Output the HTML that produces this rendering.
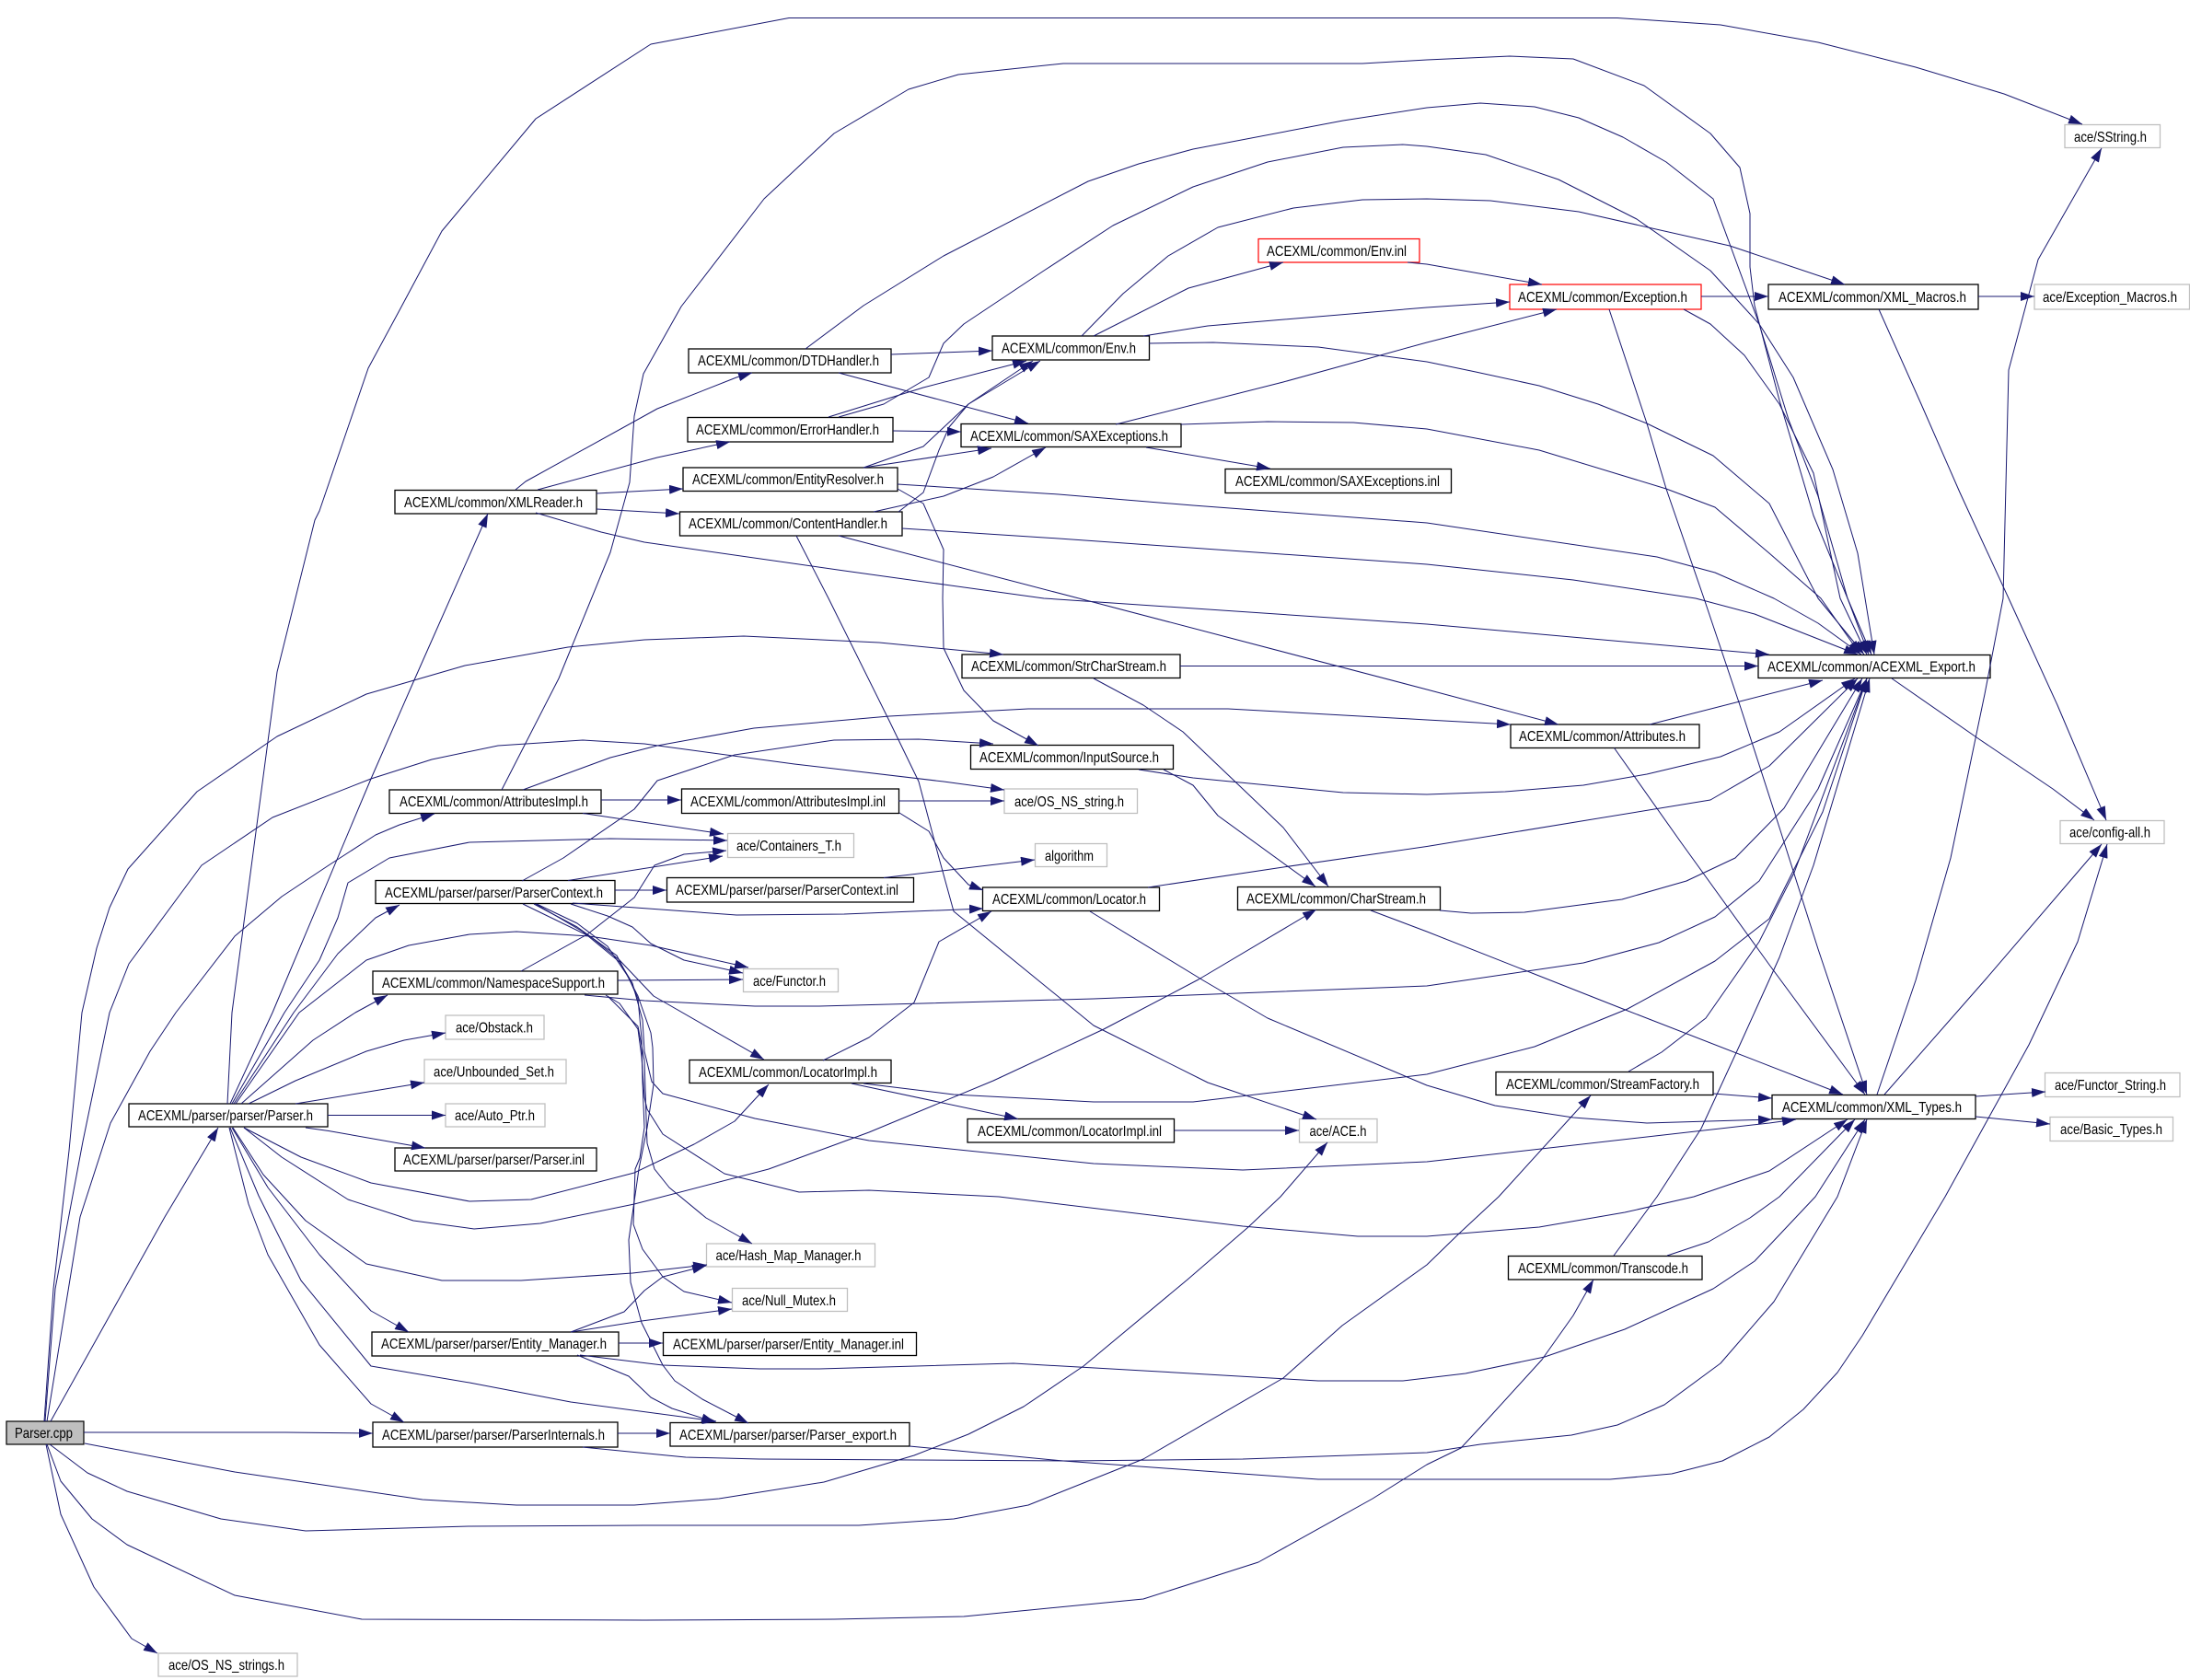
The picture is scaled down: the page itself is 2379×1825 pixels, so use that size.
<!DOCTYPE html>
<html>
<head>
<meta charset="utf-8">
<title>Parser.cpp include graph</title>
<style>
html,body{margin:0;padding:0;background:#fff}
svg{display:block}
.e path{fill:none;stroke:#191970;stroke-width:1;stroke-linejoin:round;marker-end:url(#a)}
.n rect{fill:#fff;stroke:#000;stroke-width:1.3}
.g rect{fill:#fff;stroke:#bfbfbf;stroke-width:1.3}
.r rect{fill:#fff;stroke:#f00;stroke-width:1.2}
text{font-family:"Liberation Sans",sans-serif;font-size:16px;fill:#000}
</style>
</head>
<body>
<svg xmlns="http://www.w3.org/2000/svg" width="2379" height="1825" viewBox="0 0 2379 1825">
<defs>
<marker id="a" markerUnits="userSpaceOnUse" markerWidth="15" markerHeight="10" refX="15" refY="5" orient="auto">
<path d="M0,0 L15,5 L0,10 z" fill="#191970"/>
</marker>
</defs>
<rect width="2379" height="1825" fill="#fff"/>

<g class="n"><rect x="140" y="1199" width="216" height="25"/><text x="150" y="1217" textLength="190" lengthAdjust="spacingAndGlyphs">ACEXML/parser/parser/Parser.h</text></g>
<g class="n"><rect x="429" y="1247" width="219" height="25"/><text x="438" y="1265" textLength="197" lengthAdjust="spacingAndGlyphs">ACEXML/parser/parser/Parser.inl</text></g>
<g class="n"><rect x="404" y="1447" width="268" height="26"/><text x="414" y="1465" textLength="245" lengthAdjust="spacingAndGlyphs">ACEXML/parser/parser/Entity_Manager.h</text></g>
<g class="n"><rect x="405" y="1545" width="266" height="27"/><text x="415" y="1564" textLength="242" lengthAdjust="spacingAndGlyphs">ACEXML/parser/parser/ParserInternals.h</text></g>
<g class="n"><rect x="429" y="532.5" width="219" height="25.5"/><text x="439" y="551" textLength="194" lengthAdjust="spacingAndGlyphs">ACEXML/common/XMLReader.h</text></g>
<g class="n"><rect x="423" y="858" width="230" height="25.5"/><text x="434" y="876" textLength="205" lengthAdjust="spacingAndGlyphs">ACEXML/common/AttributesImpl.h</text></g>
<g class="n"><rect x="408" y="956.5" width="260" height="25"/><text x="418" y="975" textLength="237" lengthAdjust="spacingAndGlyphs">ACEXML/parser/parser/ParserContext.h</text></g>
<g class="n"><rect x="405" y="1055" width="266" height="25"/><text x="415" y="1073" textLength="242" lengthAdjust="spacingAndGlyphs">ACEXML/common/NamespaceSupport.h</text></g>
<g class="n"><rect x="748" y="379" width="220" height="26"/><text x="758" y="397" textLength="197" lengthAdjust="spacingAndGlyphs">ACEXML/common/DTDHandler.h</text></g>
<g class="n"><rect x="747" y="453.5" width="223" height="26.5"/><text x="756" y="472" textLength="199" lengthAdjust="spacingAndGlyphs">ACEXML/common/ErrorHandler.h</text></g>
<g class="n"><rect x="742" y="508" width="233" height="25.5"/><text x="752" y="526" textLength="208" lengthAdjust="spacingAndGlyphs">ACEXML/common/EntityResolver.h</text></g>
<g class="n"><rect x="738.5" y="556" width="241.5" height="26"/><text x="748" y="574" textLength="216" lengthAdjust="spacingAndGlyphs">ACEXML/common/ContentHandler.h</text></g>
<g class="n"><rect x="1078" y="365" width="170.5" height="26"/><text x="1088" y="383.5" textLength="146" lengthAdjust="spacingAndGlyphs">ACEXML/common/Env.h</text></g>
<g class="n"><rect x="1044" y="460.5" width="239" height="25"/><text x="1054" y="479" textLength="215" lengthAdjust="spacingAndGlyphs">ACEXML/common/SAXExceptions.h</text></g>
<g class="r"><rect x="1367" y="259.5" width="175" height="25.5"/><text x="1376" y="278" textLength="152" lengthAdjust="spacingAndGlyphs">ACEXML/common/Env.inl</text></g>
<g class="n"><rect x="1331" y="509.5" width="245.5" height="26"/><text x="1342" y="528" textLength="222" lengthAdjust="spacingAndGlyphs">ACEXML/common/SAXExceptions.inl</text></g>
<g class="r"><rect x="1640" y="309" width="208" height="27"/><text x="1649" y="328" textLength="184" lengthAdjust="spacingAndGlyphs">ACEXML/common/Exception.h</text></g>
<g class="n"><rect x="1921" y="309" width="228" height="27"/><text x="1932" y="328" textLength="204" lengthAdjust="spacingAndGlyphs">ACEXML/common/XML_Macros.h</text></g>
<g class="g"><rect x="2210" y="309" width="168.5" height="27"/><text x="2219" y="328" textLength="146" lengthAdjust="spacingAndGlyphs">ace/Exception_Macros.h</text></g>
<g class="g"><rect x="2243" y="135.5" width="103.5" height="25"/><text x="2253" y="154" textLength="79" lengthAdjust="spacingAndGlyphs">ace/SString.h</text></g>
<g class="n"><rect x="1045" y="711" width="237" height="25.5"/><text x="1055" y="729" textLength="212" lengthAdjust="spacingAndGlyphs">ACEXML/common/StrCharStream.h</text></g>
<g class="n"><rect x="1054.5" y="809.5" width="220" height="26"/><text x="1064" y="828" textLength="195" lengthAdjust="spacingAndGlyphs">ACEXML/common/InputSource.h</text></g>
<g class="n"><rect x="740.5" y="857" width="236" height="26.5"/><text x="750" y="876" textLength="212" lengthAdjust="spacingAndGlyphs">ACEXML/common/AttributesImpl.inl</text></g>
<g class="g"><rect x="1091" y="857" width="144.5" height="26.5"/><text x="1102" y="876" textLength="119" lengthAdjust="spacingAndGlyphs">ace/OS_NS_string.h</text></g>
<g class="g"><rect x="790.5" y="905.5" width="137" height="26"/><text x="800" y="924" textLength="114" lengthAdjust="spacingAndGlyphs">ace/Containers_T.h</text></g>
<g class="g"><rect x="1124.5" y="916.5" width="78" height="25"/><text x="1135" y="935" textLength="53" lengthAdjust="spacingAndGlyphs">algorithm</text></g>
<g class="n"><rect x="724.5" y="953.5" width="268" height="26.5"/><text x="734" y="972" textLength="242" lengthAdjust="spacingAndGlyphs">ACEXML/parser/parser/ParserContext.inl</text></g>
<g class="n"><rect x="1067.5" y="964" width="192" height="25.5"/><text x="1078" y="982" textLength="167" lengthAdjust="spacingAndGlyphs">ACEXML/common/Locator.h</text></g>
<g class="n"><rect x="1344.5" y="963.5" width="220" height="25"/><text x="1354" y="981.5" textLength="195" lengthAdjust="spacingAndGlyphs">ACEXML/common/CharStream.h</text></g>
<g class="g"><rect x="807.5" y="1052.5" width="103" height="25"/><text x="818" y="1071" textLength="79" lengthAdjust="spacingAndGlyphs">ace/Functor.h</text></g>
<g class="n"><rect x="749" y="1151.5" width="219" height="25"/><text x="759" y="1170" textLength="194" lengthAdjust="spacingAndGlyphs">ACEXML/common/LocatorImpl.h</text></g>
<g class="n"><rect x="1051" y="1215.5" width="224.5" height="25.5"/><text x="1062" y="1234" textLength="200" lengthAdjust="spacingAndGlyphs">ACEXML/common/LocatorImpl.inl</text></g>
<g class="g"><rect x="1411.5" y="1215.5" width="84.5" height="25.5"/><text x="1422.5" y="1234" textLength="62" lengthAdjust="spacingAndGlyphs">ace/ACE.h</text></g>
<g class="n"><rect x="1910" y="711.5" width="252" height="25"/><text x="1920" y="729.5" textLength="226" lengthAdjust="spacingAndGlyphs">ACEXML/common/ACEXML_Export.h</text></g>
<g class="n"><rect x="1641" y="787" width="205" height="25.5"/><text x="1650" y="805" textLength="181" lengthAdjust="spacingAndGlyphs">ACEXML/common/Attributes.h</text></g>
<g class="g"><rect x="2238" y="891.5" width="113" height="25"/><text x="2248" y="909.5" textLength="88" lengthAdjust="spacingAndGlyphs">ace/config-all.h</text></g>
<g class="n"><rect x="1625" y="1164.5" width="236" height="25"/><text x="1636" y="1183" textLength="210" lengthAdjust="spacingAndGlyphs">ACEXML/common/StreamFactory.h</text></g>
<g class="n"><rect x="1925" y="1189.5" width="221" height="26"/><text x="1936" y="1208" textLength="195" lengthAdjust="spacingAndGlyphs">ACEXML/common/XML_Types.h</text></g>
<g class="g"><rect x="2221.5" y="1165.5" width="146.5" height="26"/><text x="2232" y="1184" textLength="121" lengthAdjust="spacingAndGlyphs">ace/Functor_String.h</text></g>
<g class="g"><rect x="2227" y="1213.5" width="133.5" height="26"/><text x="2238" y="1232" textLength="111" lengthAdjust="spacingAndGlyphs">ace/Basic_Types.h</text></g>
<g class="g"><rect x="767.5" y="1351" width="183" height="25"/><text x="777.5" y="1369" textLength="158" lengthAdjust="spacingAndGlyphs">ace/Hash_Map_Manager.h</text></g>
<g class="g"><rect x="795.5" y="1399.5" width="125" height="25"/><text x="806" y="1418" textLength="102" lengthAdjust="spacingAndGlyphs">ace/Null_Mutex.h</text></g>
<g class="n"><rect x="720.5" y="1447.5" width="275" height="25"/><text x="731" y="1465.5" textLength="251" lengthAdjust="spacingAndGlyphs">ACEXML/parser/parser/Entity_Manager.inl</text></g>
<g class="n"><rect x="728" y="1545.5" width="260" height="25.5"/><text x="738" y="1564" textLength="236" lengthAdjust="spacingAndGlyphs">ACEXML/parser/parser/Parser_export.h</text></g>
<g class="n"><rect x="1638.5" y="1364.5" width="210.5" height="25.5"/><text x="1649" y="1383" textLength="185" lengthAdjust="spacingAndGlyphs">ACEXML/common/Transcode.h</text></g>
<g class="g"><rect x="484" y="1103" width="107" height="26"/><text x="495" y="1121.5" textLength="84" lengthAdjust="spacingAndGlyphs">ace/Obstack.h</text></g>
<g class="g"><rect x="461" y="1151" width="154" height="26"/><text x="471" y="1169.5" textLength="131" lengthAdjust="spacingAndGlyphs">ace/Unbounded_Set.h</text></g>
<g class="g"><rect x="484" y="1199" width="108" height="25"/><text x="494" y="1217" textLength="87" lengthAdjust="spacingAndGlyphs">ace/Auto_Ptr.h</text></g>
<g class="g"><rect x="172" y="1796" width="151" height="25"/><text x="183" y="1814" textLength="126" lengthAdjust="spacingAndGlyphs">ace/OS_NS_strings.h</text></g>
<rect x="7" y="1544" width="84" height="25" fill="#bfbfbf" stroke="#000" stroke-width="1.2"/><text x="16" y="1562" textLength="63" lengthAdjust="spacingAndGlyphs">Parser.cpp</text>

<g class="e">
<path d="M55,1544 L117,1433 L179,1322 L237,1225"/>
<path d="M91,1556 L310,1556 L405,1557"/>
<path d="M48,1544 L58,1400 L75,1250 L89,1100 L105,1030 L119,986 L139,944 L214,860 L301,800 L398,754 L505,723 L617,703 L700,695 L808,691 L955,698 L1090,711"/>
<path d="M49,1544 L60,1400 L90,1240 L119,1100 L140,1047 L219,940 L296,888 L403,846 L469,825 L541,810 L633,804 L700,808 L863,830 L1025,849 L1091,858"/>
<path d="M51,1544 L87,1322 L120,1220 L163,1142 L191,1100 L255,1017 L306,974 L357,940 L408,907 L434,896 L472,884"/>
<path d="M92,1568 L255,1599 L459,1629 L561,1635 L689,1635 L781,1628 L895,1610 L993,1581 L1052,1558 L1112,1528 L1177,1484 L1290,1390 L1356,1333 L1391,1300 L1442,1241"/>
<path d="M54,1569 L95,1600 L138,1620 L240,1650 L332,1663 L510,1658 L700,1657 L933,1657 L1036,1650 L1117,1635 L1242,1585 L1394,1497 L1458,1440 L1550,1374 L1585,1340 L1628,1300 L1728,1190"/>
<path d="M51,1569 L66,1609 L100,1650 L138,1678 L255,1733 L393,1759 L700,1760 L906,1759 L1047,1756 L1242,1737 L1367,1697 L1491,1628 L1550,1591 L1587,1573 L1614,1544 L1675,1477 L1709,1429 L1731,1390"/>
<path d="M50,1569 L66,1645 L102,1724 L143,1780 L171,1796"/>

<path d="M247,1199 L252,1100 L301,730 L342,565 L347,555 L400,400 L434,337 L480,251 L582,129 L707,48 L857,19.5 L1757,19.5 L1869,27 L1975,46 L2081,73 L2177,102 L2262,135"/>
<path d="M250,1199 L296,1100 L403,846 L449,741 L530,558"/>
<path d="M252,1199 L309,1100 L347,1043 L367,997 L378,959 L423,932 L510,915 L663,911 L790,913"/>
<path d="M254,1199 L319,1100 L367,1036 L408,997 L434,983"/>
<path d="M256,1199 L325,1100 L398,1043 L444,1027 L510,1015 L561,1012 L640,1017 L707,1027 L813,1051"/>
<path d="M262,1199 L340,1130 L386,1100 L421,1081"/>
<path d="M270,1199 L321,1174 L398,1142 L439,1130 L484,1122"/>
<path d="M321,1199 L388,1188 L461,1176"/>
<path d="M356,1211.5 L484,1211.5"/>
<path d="M332,1225 L357,1228.5 L462,1247"/>
<path d="M265,1225 L327,1257 L403,1285 L510,1305 L577,1303 L689,1274 L754,1243 L798,1218 L835,1178"/>
<path d="M265,1225 L306,1257 L378,1303 L449,1326 L515,1335 L587,1329 L689,1308 L835,1270 L944,1230 L1079,1174 L1199,1118 L1302,1064 L1430,988"/>
<path d="M253,1225 L286,1276 L332,1326 L398,1373 L480,1391 L566,1391 L687,1383 L768,1374"/>
<path d="M252,1225 L291,1290 L347,1363 L403,1424 L444,1447"/>
<path d="M250,1225 L281,1299 L327,1391 L403,1484 L510,1502 L620,1523 L778,1544"/>
<path d="M249,1225 L270,1308 L291,1363 L347,1461 L403,1525 L439,1545"/>

<path d="M545,858 L607,737 L663,600 L684,524 L689,452 L699,406 L740,333 L830,216 L906,145 L987,97 L1041,81 L1155,69 L1480,69 L1550,65 L1640,61 L1709,64 L1786,93 L1858,145 L1890,182 L1901,232 L1901,290 L1906,332 L1933,435 L1970,560 L2007,650 L2033,711"/>
<path d="M568,858 L663,823 L714,810 L819,791 L966,778 L1117,770 L1334,770 L1550,782 L1641,787"/>
<path d="M633,883.5 L786,906"/>
<path d="M653,869 L740,869"/>
<path d="M976,870 L1091,870"/>
<path d="M977,883 L1009,903 L1025,932 L1052,961 L1068,967"/>

<path d="M560,532 L571,523 L714,444 L800,410 L817,405"/>
<path d="M584,532 L714,497 L793,480"/>
<path d="M648,536 L742,531"/>
<path d="M648,553 L738,558"/>
<path d="M582,557 L653,578 L700,589 L917,620 L1134,650 L1550,678 L1922,711"/>

<path d="M875,379 L938,332 L1025,278 L1182,197 L1237,178 L1296,162 L1459,131 L1550,117 L1608,112 L1667,116 L1715,128 L1763,149 L1810,176 L1861,216 L1879,265 L1911,352 L1943,456 L1975,539 L2007,650 L2030,711"/>
<path d="M968,385 L1078,381"/>
<path d="M911,405 L1117,460"/>
<path d="M911,453 L960,439 L1009,410 L1025,373 L1047,352 L1134,294 L1209,245 L1296,203 L1377,176 L1459,160 L1524,157 L1550,159 L1614,168 L1693,195 L1778,238 L1858,294 L1911,352 L1948,410 L1991,510 L2018,601 L2036,711"/>
<path d="M900,453 L1003,421 L1115,392"/>
<path d="M970,468 L1044,469"/>
<path d="M938,508 L1003,485 L1052,439 L1122,392"/>
<path d="M938,508 L1077,487"/>
<path d="M975,526 L1150,537 L1296,549 L1550,568 L1800,605 L1863,622 L1927,650 L1975,677 L2022,711"/>
<path d="M975,531 L1003,547 L1025,597 L1024,650 L1025,704 L1047,750 L1079,783 L1128,810"/>
<path d="M976,556 L1003,535 L1020,489 L1031,464 L1052,439 L1130,392"/>
<path d="M949,556 L1025,539 L1079,518 L1136,486"/>
<path d="M980,574 L1150,585 L1550,613 L1709,630 L1842,650 L1906,667 L2018,711"/>
<path d="M911,582 L1172,650 L1550,749 L1693,787"/>
<path d="M865,582 L900,650 L966,783 L998,849 L1020,932 L1036,990 L1188,1114 L1312,1176 L1430,1216"/>

<path d="M1188,365 L1291,313 L1394,285"/>
<path d="M1242,365 L1312,354 L1550,334 L1640,328"/>
<path d="M1175,365 L1220,319 L1269,278 L1323,247 L1405,226 L1480,217 L1550,216 L1619,218 L1715,230 L1879,267 L2004,309"/>
<path d="M1248,373 L1318,372 L1432,377 L1550,393 L1603,404 L1672,419 L1736,439 L1789,460 L1861,495 L1922,547 L1975,650 L2025,711"/>
<path d="M1529,285 L1550,287 L1675,309"/>
<path d="M1212,461 L1394,415 L1550,372 L1691,336"/>
<path d="M1245,486 L1380,509"/>
<path d="M1283,461 L1377,458 L1470,459 L1550,466 L1672,489 L1810,531 L1863,551 L1922,601 L1978,650 L2021,711"/>
<path d="M1829,336 L1858,352 L1895,386 L1933,439 L1970,514 L1999,650 L2028,711"/>
<path d="M1748,336 L1789,460 L1810,531 L1851,650 L1890,766 L1933,899 L1975,1031 L2028,1189"/>
<path d="M1848,322 L1921,322"/>
<path d="M2149,322 L2210,322"/>
<path d="M2041,336 L2087,439 L2129,535 L2182,650 L2235,766 L2288,891"/>
<path d="M2055,737 L2150,803 L2230,857 L2275,891"/>

<path d="M1282,723.5 L1910,723.5"/>
<path d="M1188,737 L1242,766 L1285,795 L1350,857 L1394,899 L1443,963"/>
<path d="M1792,787 L1980,739"/>
<path d="M1753.5,812.5 L1826,915 L1922,1048 L2026,1189"/>
<path d="M1237,836 L1296,845 L1459,861 L1550,863 L1635,860 L1720,853 L1789,841 L1869,822 L1933,795 L2015,737"/>
<path d="M1264,836 L1296,853 L1323,886 L1429,963"/>
<path d="M1247,964 L1394,942 L1550,919.5 L1858,869 L1922,832 L2018,737"/>
<path d="M1184,990 L1307,1065 L1377,1106 L1550,1179 L1624,1201 L1709,1214 L1789,1220 L1925,1216"/>
<path d="M1564,989 L1598,992 L1656,991 L1762,977 L1832,957 L1885,932 L1938,878 L2023,737"/>
<path d="M1489,989 L1550,1012 L1763,1096 L2002,1189"/>

<path d="M617,956.5 L785,930"/>
<path d="M567,957 L612,932 L689,879 L714,848 L798,820 L906,804 L998,803 L1079,808"/>
<path d="M668,967 L724,967"/>
<path d="M960,953.5 L1124,934"/>
<path d="M622,981 L800,994 L917,993 L1068,987"/>
<path d="M620,982 L660,995 L687,1007 L707,1025 L743,1043 L807,1057"/>
<path d="M568,982 L642,1018 L673,1043 L710,1082 L830,1151"/>
<path d="M583,982 L627,1003 L660,1028 L683,1062 L693,1085 L697,1128 L698,1175 L700,1225 L695,1258 L690,1270 L688,1330 L698,1357 L720,1387 L743,1403 L795,1415"/>
<path d="M580,982 L627,1007 L670,1038 L693,1082 L707,1122 L709,1138 L710,1178 L703,1225 L694,1270 L683,1347 L685,1393 L697,1437 L720,1483 L733,1500 L763,1520 L813,1546"/>
<path d="M582,982 L633,1012 L673,1045 L687,1068 L698,1108 L700,1142 L708,1175 L720,1188 L820,1215 L944,1239 L1188,1264 L1350,1271 L1550,1262 L1922,1220 L1951,1216"/>

<path d="M566,1055 L638,1015 L689,975 L711,940 L743,928 L789,924"/>
<path d="M671,1065 L807,1064"/>
<path d="M635,1081 L700,1087 L820,1093 L890,1093 L1188,1085 L1550,1071 L1720,1046 L1802,1024 L1863,996 L1911,957 L1975,857 L2028,737"/>
<path d="M658,1081 L673,1090 L693,1118 L697,1148 L700,1192 L703,1205 L720,1232 L787,1275 L868,1295 L944,1293 L1085,1300 L1350,1332 L1475,1343 L1550,1343 L1672,1333 L1765,1317 L1840,1300 L1922,1272 L2007,1216"/>
<path d="M660,1082 L693,1115 L700,1152 L702,1215 L703,1242 L711,1270 L727,1290 L767,1323 L817,1351"/>

<path d="M894,1152 L944,1127 L993,1089 L1020,1023 L1077,990"/>
<path d="M938,1177 L1036,1189 L1188,1197 L1296,1197 L1550,1167 L1667,1137 L1768,1096 L1863,1044 L1922,998 L1980,882 L2028,737"/>
<path d="M925,1177 L1106,1215.5"/>
<path d="M1275.5,1228 L1411,1228"/>

<path d="M1769,1164 L1805,1143 L1853,1106 L1911,1023 L1949,948 L2028,737"/>
<path d="M1861,1188 L1925,1193"/>
<path d="M1753,1364 L1800,1300 L1848,1226 L1890,1135 L1933,1040 L1970,940 L2031,737"/>
<path d="M1811,1364 L1856,1349 L1901,1323 L1933,1300 L2015,1216"/>

<path d="M2039,1189 L2081,1065 L2119,932 L2156,754 L2176,650 L2182,402 L2214,282 L2283,161"/>
<path d="M2047,1189 L2156,1065 L2283,917"/>
<path d="M2146,1191 L2222,1186"/>
<path d="M2146,1213 L2227,1221"/>

<path d="M620,1447 L678,1425 L700,1402 L720,1387 L767,1375"/>
<path d="M620,1447 L697,1435 L795,1422"/>
<path d="M672,1459 L720,1459"/>
<path d="M627,1472 L683,1495 L707,1518 L730,1530 L777,1545"/>
<path d="M630,1472 L720,1483 L825,1487 L890,1487 L1101,1481 L1242,1489 L1432,1500 L1524,1500 L1592,1492 L1678,1474 L1765,1444 L1861,1400 L1906,1370 L1972,1300 L2026,1216"/>
<path d="M671,1557 L728,1557"/>
<path d="M633,1572 L745,1583 L825,1585 L1161,1587 L1350,1585 L1550,1578 L1608,1569 L1707,1559 L1757,1548 L1808,1526 L1869,1481 L1927,1414 L1996,1300 L2028,1216"/>
<path d="M988,1571 L1155,1587 L1432,1607 L1749,1607 L1816,1601 L1871,1587 L1922,1561 L1959,1531 L1996,1491 L2023,1451 L2113,1300 L2204,1135 L2257,1023 L2289,917"/>
</g>
</svg>
</body>
</html>
